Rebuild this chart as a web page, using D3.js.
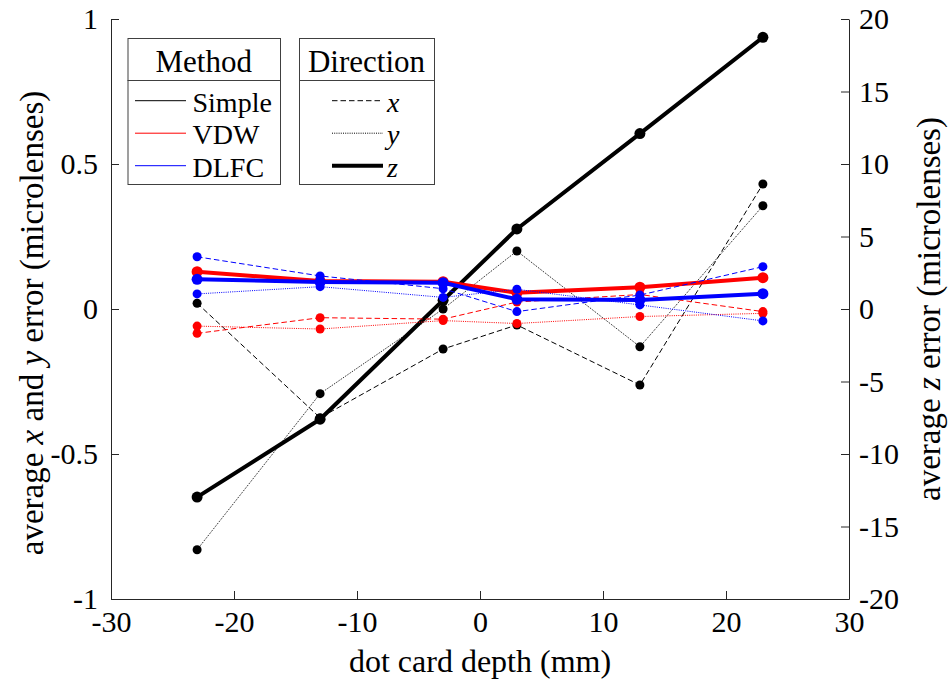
<!DOCTYPE html>
<html>
<head>
<meta charset="utf-8">
<script src="https://cdn.jsdelivr.net/npm/d3@7"></script>
<style>
  html, body { margin: 0; padding: 0; background: #fff; }
  svg text { font-family: "Liberation Serif", "Times New Roman", Times, serif; }
</style>
</head>
<body>
<svg id="chart" width="948" height="688"></svg>
<script>
// ---------------- data ----------------
const depths = [-23, -13, -3, 3, 13, 23];

const simpleX = [0.02, -0.375, -0.138, -0.055, -0.262, 0.431];
const simpleY = [-0.83, -0.292, 0.0, 0.2, -0.13, 0.356];
const simpleZ = [-12.97, -7.6, 0.6, 5.52, 12.1, 18.74];

const vdwX = [-0.084, -0.030, -0.035, 0.024, 0.05, -0.009];
const vdwY = [-0.059, -0.069, -0.04, -0.05, -0.026, -0.015];
const vdwZ = [2.57, 1.93, 1.88, 1.12, 1.50, 2.16];

const dlfcX = [0.18, 0.114, 0.07, -0.009, 0.048, 0.146];
const dlfcY = [0.052, 0.077, 0.04, 0.068, 0.014, -0.041];
const dlfcZ = [2.05, 1.86, 1.81, 0.67, 0.62, 1.06];

const xTicks = [-30, -20, -10, 0, 10, 20, 30];
const yLeftTicks = [-1, -0.5, 0, 0.5, 1];
const yRightTicks = [-20, -15, -10, -5, 0, 5, 10, 15, 20];

const methods = ["Simple", "VDW", "DLFC"];
const directions = ["x", "y", "z"];
// ---------------------------------------

const colors = { Simple: "#000000", VDW: "#ff0000", DLFC: "#0000ff" };
const series = [
  { m: "Simple", d: "x", v: simpleX }, { m: "Simple", d: "y", v: simpleY }, { m: "Simple", d: "z", v: simpleZ },
  { m: "VDW", d: "x", v: vdwX }, { m: "VDW", d: "y", v: vdwY }, { m: "VDW", d: "z", v: vdwZ },
  { m: "DLFC", d: "x", v: dlfcX }, { m: "DLFC", d: "y", v: dlfcY }, { m: "DLFC", d: "z", v: dlfcZ }
];
const dashFor = { x: "5.5,3", y: "1,1.2", z: null };
const widthFor = { x: 1, y: 1, z: 4 };

const svg = d3.select("#chart");
const L = 111, R = 849, T = 19, B = 599;
const axisColor = "#262626";
const FONT = "'Liberation Serif', 'Times New Roman', Times, serif";

const x = d3.scaleLinear().domain([-30, 30]).range([L, R]);
const yL = d3.scaleLinear().domain([-1, 1]).range([B, T]);
const yR = d3.scaleLinear().domain([-20, 20]).range([B, T]);

// axes
const gx = svg.append("g").attr("transform", `translate(0,${B})`)
  .call(d3.axisBottom(x).tickValues(xTicks).tickSizeInner(-8).tickSizeOuter(0).tickPadding(12).tickFormat(d3.format("d")));
const gl = svg.append("g").attr("transform", `translate(${L},0)`)
  .call(d3.axisLeft(yL).tickValues(yLeftTicks).tickSizeInner(-8).tickSizeOuter(0).tickPadding(13).tickFormat(d => String(d)));
const gr = svg.append("g").attr("transform", `translate(${R},0)`)
  .call(d3.axisRight(yR).tickValues(yRightTicks).tickSizeInner(-8).tickSizeOuter(0).tickPadding(10).tickFormat(d => String(d)));

[gx, gl, gr].forEach(g => {
  g.attr("font-family", FONT).attr("font-size", 30);
  g.select(".domain").attr("stroke", axisColor).attr("stroke-width", 1);
  g.selectAll(".tick line").attr("stroke", axisColor).attr("stroke-width", 1);
  g.selectAll(".tick text").attr("fill", "#000").attr("font-family", FONT).attr("font-size", 30)
    .text(function(){ return d3.select(this).text().replace("\u2212", "-"); });
});

// data lines
const plot = svg.append("g");
series.forEach(s => {
  const yS = s.d === "z" ? yR : yL;
  const line = d3.line().x((d, i) => x(depths[i])).y(d => yS(d));
  const p = plot.append("path").datum(s.v)
    .attr("d", line)
    .attr("fill", "none")
    .attr("stroke", colors[s.m])
    .attr("stroke-width", widthFor[s.d])
    .attr("stroke-linejoin", "round");
  if (dashFor[s.d]) p.attr("stroke-dasharray", dashFor[s.d]);
  plot.selectAll(null).data(s.v).enter().append("circle")
    .attr("cx", (d, i) => x(depths[i]))
    .attr("cy", d => yS(d))
    .attr("r", s.d === "z" ? 5.5 : 4.5)
    .attr("fill", colors[s.m]);
});

// axis labels
const LABEL = 32;
svg.append("text").attr("x", (L + R) / 2).attr("y", 672).attr("text-anchor", "middle")
  .attr("font-family", FONT).attr("font-size", LABEL).text("dot card depth (mm)");

const lt = svg.append("text").attr("text-anchor", "middle").attr("font-family", FONT).attr("font-size", 33)
  .attr("transform", `translate(43,${(T + B) / 2 + 14}) rotate(-90)`);
lt.append("tspan").text("average ");
lt.append("tspan").attr("font-style", "italic").text("x");
lt.append("tspan").text(" and ");
lt.append("tspan").attr("font-style", "italic").text("y");
lt.append("tspan").text(" error (microlenses)");

const rt = svg.append("text").attr("text-anchor", "middle").attr("font-family", FONT).attr("font-size", 33)
  .attr("transform", `translate(940,${(T + B) / 2}) rotate(-90)`);
rt.append("tspan").text("average ");
rt.append("tspan").attr("font-style", "italic").text("z");
rt.append("tspan").text(" error (microlenses)");

// legends
function legendBox(x0, x1, title, items) {
  const g = svg.append("g").attr("font-family", FONT);
  g.append("rect").attr("x", x0 + 0.5).attr("y", 38.5).attr("width", x1 - x0).attr("height", 146)
    .attr("fill", "#fff").attr("stroke", "#404040").attr("stroke-width", 1);
  g.append("line").attr("x1", x0).attr("x2", x1 + 1).attr("y1", 80.5).attr("y2", 80.5)
    .attr("stroke", "#404040").attr("stroke-width", 1);
  g.append("text").attr("x", (x0 + x1) / 2).attr("y", 72).attr("text-anchor", "middle")
    .attr("font-size", 31).text(title);
  items.forEach((it, i) => {
    const yy = 100.7 + i * 32.5;
    const ln = g.append("line").attr("x1", it.lx0).attr("x2", it.lx1).attr("y1", yy).attr("y2", yy)
      .attr("stroke", it.color).attr("stroke-width", it.w);
    if (it.dash) ln.attr("stroke-dasharray", it.dash);
    g.append("text").attr("x", it.tx).attr("y", yy + 10.8).attr("font-size", 28)
      .attr("font-style", it.italic ? "italic" : "normal").text(it.label);
  });
}
legendBox(127.5, 280, "Method", methods.map(m => ({
  label: m, color: colors[m], w: 1, dash: null, lx0: 135, lx1: 186, tx: 192.5, italic: false
})));
legendBox(299, 434, "Direction", directions.map(d => ({
  label: d, color: "#000", w: widthFor[d], dash: dashFor[d], lx0: 332, lx1: 383, tx: 387, italic: true
})));
</script>
</body>
</html>
